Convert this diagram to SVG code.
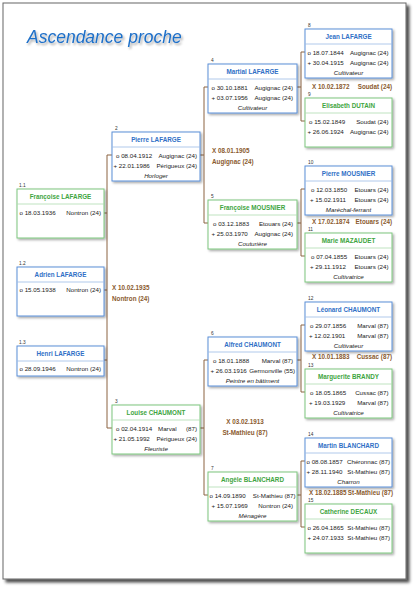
<svg xmlns="http://www.w3.org/2000/svg" width="418" height="591" viewBox="0 0 418 591">
<defs>
<filter id="sh" x="-10%" y="-10%" width="130%" height="140%"><feDropShadow dx="1.5" dy="1.5" stdDeviation="1" flood-color="#000" flood-opacity="0.35"/></filter>
<filter id="pg" x="-5%" y="-5%" width="110%" height="110%"><feDropShadow dx="3" dy="3" stdDeviation="1.5" flood-color="#000" flood-opacity="0.7"/></filter>
<filter id="ts" x="-10%" y="-30%" width="120%" height="180%"><feDropShadow dx="1.5" dy="2" stdDeviation="1.2" flood-color="#000" flood-opacity="0.35"/></filter>
<style>
text{font-family:"Liberation Sans",Arial,sans-serif}
.m rect{fill:#fff;stroke:#5b8fd7;stroke-width:1}
.f rect{fill:#fff;stroke:#7cc67f;stroke-width:1}
.m line{stroke:#9dbbe6;stroke-width:0.8}
.f line{stroke:#aedcb0;stroke-width:0.8}
.m .h{fill:#2f6fc6;font-weight:bold;font-size:6.3px;text-anchor:middle}
.f .h{fill:#3ea541;font-weight:bold;font-size:6.3px;text-anchor:middle}
.d{fill:#1a1a1a;font-size:6.2px}
.p{fill:#1a1a1a;font-size:6.2px;text-anchor:end}
.o{fill:#1a1a1a;font-size:6.2px;font-style:italic;text-anchor:middle}
.n{fill:#333;font-size:4.8px}
.x{fill:#8a5a2e;font-size:6.3px;font-weight:bold}
.c{stroke:#8b6340;stroke-width:1;fill:none}
</style>
</defs>
<rect x="0" y="0" width="418" height="591" fill="#fff"/>
<rect x="3" y="3" width="403" height="576" fill="#fff" stroke="#666" stroke-width="1" filter="url(#pg)"/>
<text x="27" y="43" font-size="17.5" font-style="italic" fill="#1f6fc8" filter="url(#ts)">Ascendance proche</text>

<g id="connectors" class="c">
<path class="c" d="M112,155H107V428H112M104,213H107M104,290H107M104,360H107"/>
<path class="c" d="M200,155H204M208,87H204V223H208"/>
<path class="c" d="M200,428H204M208,360H204V495H208"/>
<path class="c" d="M297,87H301M305,52H301V121H305"/>
<path class="c" d="M297,223H301M305,189H301V256H305"/>
<path class="c" d="M297,360H301M305,325H301V392H305"/>
<path class="c" d="M297,495H301M305,461H301V527H305"/>
</g>

<g id="marriages">
<text class="x" x="112" y="289.5">X 10.02.1935</text>
<text class="x" x="112" y="300.5">Nontron (24)</text>
<text class="x" x="212" y="153">X 08.01.1905</text>
<text class="x" x="212" y="164">Augignac (24)</text>
<text class="x" x="245" y="424" text-anchor="middle">X 03.02.1913</text>
<text class="x" x="245" y="435" text-anchor="middle">St-Mathieu (87)</text>
<text class="x" x="312" y="89">X 10.02.1872</text><text class="x" x="392" y="89" text-anchor="end">Soudat (24)</text>
<text class="x" x="312" y="224">X 17.02.1874</text><text class="x" x="392" y="224" text-anchor="end">Etouars (24)</text>
<text class="x" x="312" y="359">X 10.01.1883</text><text class="x" x="392" y="359" text-anchor="end">Cussac (87)</text>
<text class="x" x="309" y="495" font-size="5.9">X 18.02.1885</text><text class="x" x="393" y="495" text-anchor="end" font-size="5.9">St-Mathieu (87)</text>
</g>

<g id="n1_1" class="f">
<text class="n" x="19" y="186.5">1.1</text>
<rect x="17" y="189" width="87" height="49" filter="url(#sh)"/>
<line x1="17" y1="204" x2="104" y2="204"/>
<text class="h" x="60.5" y="199">Françoise LAFARGE</text>
<text class="d" x="19.5" y="215">o 18.03.1936</text><text class="p" x="101" y="215">Nontron (24)</text>
</g>
<g id="n1_2" class="m">
<text class="n" x="19" y="264.5">1.2</text>
<rect x="17" y="267" width="87" height="49" filter="url(#sh)"/>
<line x1="17" y1="282" x2="104" y2="282"/>
<text class="h" x="60.5" y="277">Adrien LAFARGE</text>
<text class="d" x="19.5" y="292">o 15.05.1938</text><text class="p" x="101" y="292">Nontron (24)</text>
</g>
<g id="n1_3" class="m">
<text class="n" x="19" y="343.5">1.3</text>
<rect x="17" y="346" width="87" height="30" filter="url(#sh)"/>
<line x1="17" y1="361" x2="104" y2="361"/>
<text class="h" x="60.5" y="356">Henri LAFARGE</text>
<text class="d" x="19.5" y="371">o 28.09.1946</text><text class="p" x="101" y="371">Nontron (24)</text>
</g>

<g id="n2" class="m">
<text class="n" x="115" y="129.5">2</text>
<rect x="112" y="132" width="88" height="49" filter="url(#sh)"/>
<line x1="112" y1="147" x2="200" y2="147"/>
<text class="h" x="156" y="142">Pierre LAFARGE</text>
<text class="d" x="116" y="157.5">o 08.04.1912</text><text class="p" x="197" y="157.5">Augignac (24)</text>
<text class="d" x="113.5" y="167.5">+ 22.01.1986</text><text class="p" x="197" y="167.5">Périgueux (24)</text>
<text class="o" x="156" y="177.5">Horloger</text>
</g>
<g id="n3" class="f">
<text class="n" x="115" y="402.5">3</text>
<rect x="112" y="405" width="88" height="49" filter="url(#sh)"/>
<line x1="112" y1="420" x2="200" y2="420"/>
<text class="h" x="156" y="415">Louise CHAUMONT</text>
<text class="d" x="116" y="430.5">o 02.04.1914</text><text class="d" x="158" y="430.5">Marval</text><text class="p" x="197" y="430.5">(87)</text>
<text class="d" x="113.5" y="440.5">+ 21.05.1992</text><text class="p" x="197" y="440.5">Périgueux (24)</text>
<text class="o" x="156" y="450.5">Fleuriste</text>
</g>

<g id="n4" class="m">
<text class="n" x="211" y="61.5">4</text>
<rect x="208" y="64" width="89" height="49" filter="url(#sh)"/>
<line x1="208" y1="79" x2="297" y2="79"/>
<text class="h" x="252.5" y="74">Martial LAFARGE</text>
<text class="d" x="211.5" y="89.5">o 30.10.1881</text><text class="p" x="293" y="89.5">Augignac (24)</text>
<text class="d" x="211.5" y="99.5">+ 03.07.1956</text><text class="p" x="293" y="99.5">Augignac (24)</text>
<text class="o" x="252.5" y="109.5">Cultivateur</text>
</g>
<g id="n5" class="f">
<text class="n" x="211" y="197.5">5</text>
<rect x="208" y="200" width="89" height="49" filter="url(#sh)"/>
<line x1="208" y1="215" x2="297" y2="215"/>
<text class="h" x="252.5" y="210">Françoise MOUSNIER</text>
<text class="d" x="213" y="225.5">o 03.12.1883</text><text class="p" x="293" y="225.5">Etouars (24)</text>
<text class="d" x="211.5" y="235.5">+ 25.03.1970</text><text class="p" x="293" y="235.5">Augignac (24)</text>
<text class="o" x="252.5" y="245.5">Couturière</text>
</g>
<g id="n6" class="m">
<text class="n" x="211" y="334.5">6</text>
<rect x="208" y="337" width="89" height="49" filter="url(#sh)"/>
<line x1="208" y1="352" x2="297" y2="352"/>
<text class="h" x="252.5" y="347">Alfred CHAUMONT</text>
<text class="d" x="213" y="362.5">o 18.01.1888</text><text class="p" x="293" y="362.5">Marval (87)</text>
<text class="d" x="210.5" y="372.5" font-size="6">+ 26.03.1916</text><text class="p" x="295" y="372.5" font-size="6">Germonville (55)</text>
<text class="o" x="252.5" y="382.5">Peintre en bâtiment</text>
</g>
<g id="n7" class="f">
<text class="n" x="211" y="469.5">7</text>
<rect x="208" y="472" width="89" height="49" filter="url(#sh)"/>
<line x1="208" y1="487" x2="297" y2="487"/>
<text class="h" x="252.5" y="482">Angèle BLANCHARD</text>
<text class="d" x="209.5" y="497.5">o 14.09.1890</text><text class="p" x="295.5" y="497.5">St-Mathieu (87)</text>
<text class="d" x="211.5" y="507.5">+ 15.07.1969</text><text class="p" x="293" y="507.5">Nontron (24)</text>
<text class="o" x="252.5" y="517.5">Ménagère</text>
</g>

<g id="n8" class="m">
<text class="n" x="308" y="26.5">8</text>
<rect x="305" y="29" width="87" height="49" filter="url(#sh)"/>
<line x1="305" y1="44" x2="392" y2="44"/>
<text class="h" x="348.5" y="39">Jean LAFARGE</text>
<text class="d" x="307.5" y="54.5">o 18.07.1844</text><text class="p" x="388.5" y="54.5">Augignac (24)</text>
<text class="d" x="307.5" y="64.5">+ 30.04.1915</text><text class="p" x="388.5" y="64.5">Augignac (24)</text>
<text class="o" x="348.5" y="74.5">Cultivateur</text>
</g>
<g id="n9" class="f">
<text class="n" x="308" y="95.5">9</text>
<rect x="305" y="98" width="87" height="49" filter="url(#sh)"/>
<line x1="305" y1="113" x2="392" y2="113"/>
<text class="h" x="348.5" y="108">Elisabeth DUTAIN</text>
<text class="d" x="309" y="123.5">o 15.02.1849</text><text class="p" x="388.5" y="123.5">Soudat (24)</text>
<text class="d" x="307.5" y="133.5">+ 26.06.1924</text><text class="p" x="388.5" y="133.5">Augignac (24)</text>
</g>
<g id="n10" class="m">
<text class="n" x="308" y="163.5">10</text>
<rect x="305" y="166" width="87" height="49" filter="url(#sh)"/>
<line x1="305" y1="181" x2="392" y2="181"/>
<text class="h" x="348.5" y="176">Pierre MOUSNIER</text>
<text class="d" x="311" y="191.5">o 12.03.1850</text><text class="p" x="388.5" y="191.5">Etouars (24)</text>
<text class="d" x="310" y="201.5">+ 15.02.1911</text><text class="p" x="388.5" y="201.5">Etouars (24)</text>
<text class="o" x="348.5" y="211.5">Maréchal-ferrant</text>
</g>
<g id="n11" class="f">
<text class="n" x="308" y="230.5">11</text>
<rect x="305" y="233" width="87" height="49" filter="url(#sh)"/>
<line x1="305" y1="248" x2="392" y2="248"/>
<text class="h" x="348.5" y="243">Marie MAZAUDET</text>
<text class="d" x="311" y="258.5">o 07.04.1855</text><text class="p" x="388.5" y="258.5">Etouars (24)</text>
<text class="d" x="310" y="268.5">+ 29.11.1912</text><text class="p" x="388.5" y="268.5">Etouars (24)</text>
<text class="o" x="348.5" y="278.5">Cultivatrice</text>
</g>
<g id="n12" class="m">
<text class="n" x="308" y="299.5">12</text>
<rect x="305" y="302" width="87" height="49" filter="url(#sh)"/>
<line x1="305" y1="317" x2="392" y2="317"/>
<text class="h" x="348.5" y="312">Léonard CHAUMONT</text>
<text class="d" x="310" y="327.5">o 29.07.1856</text><text class="p" x="388.5" y="327.5">Marval (87)</text>
<text class="d" x="309" y="337.5">+ 12.02.1901</text><text class="p" x="388.5" y="337.5">Marval (87)</text>
<text class="o" x="348.5" y="347.5">Cultivateur</text>
</g>
<g id="n13" class="f">
<text class="n" x="308" y="366.5">13</text>
<rect x="305" y="369" width="87" height="49" filter="url(#sh)"/>
<line x1="305" y1="384" x2="392" y2="384"/>
<text class="h" x="348.5" y="379">Marguerite BRANDY</text>
<text class="d" x="310" y="394.5">o 18.05.1865</text><text class="p" x="388.5" y="394.5">Cussac (87)</text>
<text class="d" x="309" y="404.5">+ 19.03.1929</text><text class="p" x="388.5" y="404.5">Marval (87)</text>
<text class="o" x="348.5" y="414.5">Cultivatrice</text>
</g>
<g id="n14" class="m">
<text class="n" x="308" y="435.5">14</text>
<rect x="305" y="438" width="87" height="49" filter="url(#sh)"/>
<line x1="305" y1="453" x2="392" y2="453"/>
<text class="h" x="348.5" y="448">Martin BLANCHARD</text>
<text class="d" x="306.5" y="463.5">o 08.08.1857</text><text class="p" x="390" y="463.5">Chéronnac (87)</text>
<text class="d" x="306.5" y="473.5">+ 28.11.1940</text><text class="p" x="390" y="473.5">St-Mathieu (87)</text>
<text class="o" x="348.5" y="483.5">Charron</text>
</g>
<g id="n15" class="f">
<text class="n" x="308" y="501.5">15</text>
<rect x="305" y="504" width="87" height="49" filter="url(#sh)"/>
<line x1="305" y1="519" x2="392" y2="519"/>
<text class="h" x="348.5" y="514">Catherine DECAUX</text>
<text class="d" x="307.5" y="529.5">o 26.04.1865</text><text class="p" x="390" y="529.5">St-Mathieu (87)</text>
<text class="d" x="307.5" y="539.5">+ 24.07.1933</text><text class="p" x="390" y="539.5">St-Mathieu (87)</text>
</g>
</svg>
